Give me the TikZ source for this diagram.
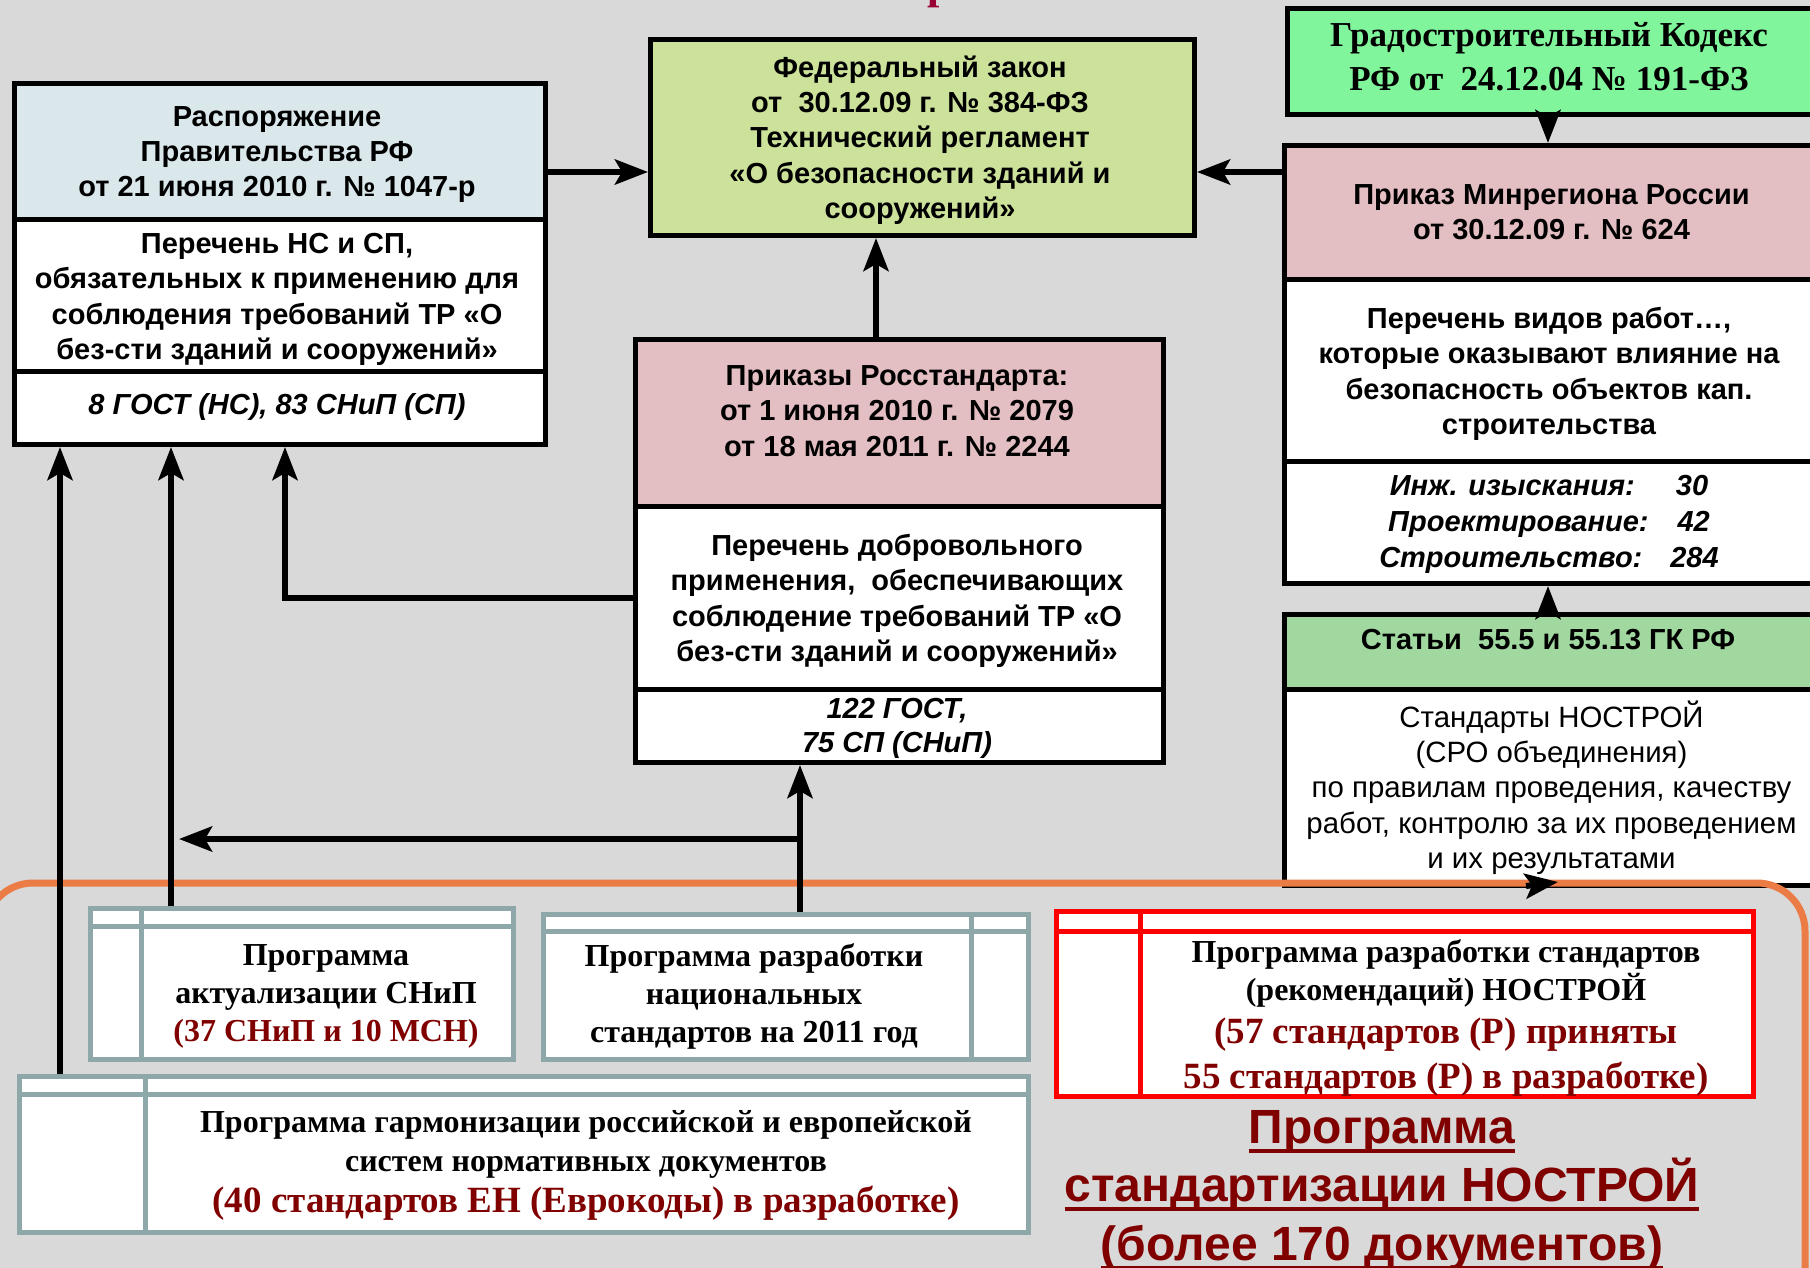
\documentclass[tikz,border=0pt]{standalone}
\usepackage{fontspec}
\setmainfont{Liberation Sans}
\newfontfamily\trm{Liberation Serif}
\usetikzlibrary{arrows.meta,calc}
\definecolor{bgc}{RGB}{217,217,217}
\definecolor{lblue}{RGB}{218,232,236}
\definecolor{fgreen}{RGB}{204,226,154}
\definecolor{ggreen}{RGB}{128,245,155}
\definecolor{pinkc}{RGB}{227,190,194}
\definecolor{sgreen}{RGB}{160,216,160}
\definecolor{tealg}{RGB}{142,168,170}
\definecolor{dred}{RGB}{128,0,0}
\definecolor{orng}{RGB}{236,124,70}
\definecolor{ttlred}{RGB}{153,0,51}
\newcommand{\blk}{\fontsize{32}{38}\selectfont}
\newcommand{\rdl}{\color{dred}\fontsize{37}{38}\selectfont}
\begin{document}
\begin{tikzpicture}[x=1pt,y=-1pt,
  bx/.style={draw=black,line width=5pt,inner sep=0pt,anchor=north west,align=center,
     font=\bfseries\fontsize{29}{35.3}\selectfont},
  txt/.style={inner sep=0pt,align=center,font=\bfseries\fontsize{29}{35.3}\selectfont},
  tbx/.style={draw=tealg,line width=5pt,fill=white,inner sep=0pt,anchor=north west},
  rbx/.style={draw=red,line width=5pt,fill=white,inner sep=0pt,anchor=north west},
  tln/.style={draw=tealg,line width=5pt},
  rln/.style={draw=red,line width=5pt},
  ttx/.style={inner sep=0pt,align=center,font=\trm\bfseries\fontsize{32}{38}\selectfont},
  big/.style={inner sep=0pt,anchor=base,text=dred,font=\bfseries\fontsize{48}{56}\selectfont},
  ulin/.style={draw=dred,line width=3.5pt},
  arr/.style={line width=6pt,-{Stealth[length=33pt,width=25pt,inset=7pt]}},
  orl/.style={draw=orng,line width=7pt,rounded corners=48pt}
]
\useasboundingbox (0,0) rectangle (1810,1268);
\fill[bgc] (0,0) rectangle (1810,1268);

% cut-off title letter
\node[anchor=base west,inner sep=0pt,text=ttlred,font=\trm\bfseries\fontsize{44}{44}\selectfont] (ttl) at (927,-1) {р};

% left box
\node[bx,fill=lblue,minimum width=531pt,minimum height=136pt] (L1) at (12,81) {};
\node[txt] (L1t) at (277,154.5) {Распоряжение\\Правительства РФ\\от 21 июня 2010 г. № 1047-р};
\node[bx,fill=white,minimum width=531pt,minimum height=152pt] (L2) at (12,217) {};
\node[txt] (L2t) at (277,299.5) {Перечень НС и СП,\\обязательных к применению для\\соблюдения требований ТР «О\\без-сти зданий и сооружений»};
\node[bx,fill=white,minimum width=531pt,minimum height=73pt] (L3) at (12,369) {};
\node[txt,font=\bfseries\itshape\fontsize{29}{35}\selectfont] (L3t) at (277,407.5) {8 ГОСТ (НС), 83 СНиП (СП)};

% federal law
\node[bx,fill=fgreen,minimum width=544pt,minimum height=196pt] (F) at (648,37) {};
\node[txt] (Ft) at (920,140) {Федеральный закон\\от~~30.12.09 г. № 384-ФЗ\\Технический регламент\\«О безопасности зданий и\\сооружений»};

% Grad kodeks
\node[bx,fill=ggreen,minimum width=531pt,minimum height=106pt] (G) at (1285,6) {};
\node[txt,font=\trm\bfseries\fontsize{35}{44}\selectfont] (Gt) at (1549,56.5) {Градостроительный Кодекс\\РФ от~~24.12.04 № 191-ФЗ};

% Minregion
\node[bx,fill=pinkc,minimum width=534pt,minimum height=134pt] (M1) at (1282,143)
  {Приказ Минрегиона России\\от 30.12.09 г. № 624};
\node[bx,fill=white,minimum width=534pt,minimum height=182pt] (M2) at (1282,277) {};
\node[txt] (M2t) at (1549,374) {Перечень видов работ…,\\которые оказывают влияние на\\безопасность объектов кап.\\строительства};
\node[bx,fill=white,minimum width=534pt,minimum height=122pt] (M3) at (1282,459) {};
\node[txt,font=\bfseries\itshape\fontsize{29}{36}\selectfont] (M3t) at (1549,524)
  {Инж. изыскания:\hspace{41pt}30\\Проектирование:\hspace{29pt}42\\Строительство:\hspace{28pt}284};

% Statyi
\node[bx,fill=sgreen,minimum width=534pt,minimum height=75pt] (S1) at (1282,612) {};
\node[txt] (S1t) at (1548,640) {Статьи~~55.5 и 55.13 ГК РФ};
\node[bx,fill=white,minimum width=534pt,minimum height=196pt,font=\fontsize{29.4}{35.3}\selectfont] (S2) at (1282,687)
  {Стандарты НОСТРОЙ\\(СРО объединения)\\по правилам проведения, качеству\\работ, контролю за их проведением\\и их результатами};

% Rosstandart
\node[bx,fill=pinkc,minimum width=528pt,minimum height=167pt] (R1) at (633,337) {};
\node[txt] (R1t) at (897,411) {Приказы Росстандарта:\\от 1 июня 2010 г. № 2079\\от 18 мая 2011 г. № 2244};
\node[bx,fill=white,minimum width=528pt,minimum height=183pt] (R2) at (633,504) {};
\node[txt] (R2t) at (897,601) {Перечень добровольного\\применения,~~обеспечивающих\\соблюдение требований ТР «О\\без-сти зданий и сооружений»};
\node[bx,fill=white,minimum width=528pt,minimum height=73pt] (R3) at (633,687) {};
\node[txt,font=\bfseries\itshape\fontsize{29}{34}\selectfont] (R3t) at (897,728) {122 ГОСТ,\\75 СП (СНиП)};

% bottom tables
\node[tbx,minimum width=423pt,minimum height=151pt] (A) at (88,906) {};
\draw[tln] ($(A.north west)+(0,20)$) -- ($(A.north east)+(0,20)$);
\draw[tln] ($(A.north west)+(53,0)$) -- ($(A.south west)+(53,0)$);
\node[ttx] (At) at (326,996) {Программа\\актуализации СНиП\\\color{dred}(37 СНиП и 10 МСН)};

\node[tbx,minimum width=485pt,minimum height=145pt] (B) at (541,912) {};
\draw[tln] ($(B.north west)+(0,19)$) -- ($(B.north east)+(0,19)$);
\draw[tln] ($(B.north east)+(-60,0)$) -- ($(B.south east)+(-60,0)$);
\node[ttx] (Bt) at (754,996) {Программа разработки\\национальных\\стандартов на 2011 год};

\node[tbx,minimum width=1009pt,minimum height=156pt] (C) at (17,1074) {};
\draw[tln] ($(C.north west)+(0,20)$) -- ($(C.north east)+(0,20)$);
\draw[tln] ($(C.north west)+(128,0)$) -- ($(C.south west)+(128,0)$);
\node[ttx] (Ct) at (586,1165) {\blk Программа гармонизации российской и европейской\\[1pt]\blk систем нормативных документов\\[3pt]\rdl (40 стандартов ЕН (Еврокоды) в разработке)};

\node[rbx,minimum width=697pt,minimum height=185pt] (D) at (1054,909) {};
\draw[rln] ($(D.north west)+(0,22)$) -- ($(D.north east)+(0,22)$);
\draw[rln] ($(D.north west)+(86,0)$) -- ($(D.south west)+(86,0)$);
\node[ttx] (Dt) at (1446,1017.5) {\blk Программа разработки стандартов\\\blk (рекомендаций) НОСТРОЙ\\[5pt]\rdl (57 стандартов (Р) приняты\\[7pt]\rdl 55 стандартов (Р) в разработке)};

% big NOSTROY title
\node[big] (N1) at (1382,1143) {Программа};
\node[big] (N2) at (1382,1201) {стандартизации НОСТРОЙ};
\node[big] (N3) at (1382,1260) {(более 170 документов)};
\draw[ulin] ($(N1.base west)+(0,8)$) -- ($(N1.base east)+(0,8)$);
\draw[ulin] ($(N2.base west)+(0,8)$) -- ($(N2.base east)+(0,8)$);
\draw[ulin] ($(N3.base west)+(0,8)$) -- ($(N3.base east)+(0,8)$);

% orange frame
\draw[orl] (-15,1300) -- (-15,883) -- (1805,883) -- (1805,1300);

% connectors
\coordinate (yH) at (0,172);
\coordinate (xRF) at (876,0);
\coordinate (xM) at (1548,0);
\coordinate (xa) at (60,0);
\coordinate (xb) at (171,0);
\coordinate (xc) at (285,0);
\coordinate (xd) at (800,0);
\coordinate (jn) at (800,839);
\coordinate (jt) at (179,839);
\draw[arr] (L1.east |- yH) -- (F.west |- yH);
\draw[arr] (M1.west |- yH) -- (F.east |- yH);
\draw[arr] (R1.north -| xRF) -- (F.south -| xRF);
\draw[arr] (G.south -| xM) -- (M1.north -| xM);
\draw[arr] (S1.north -| xM) -- (M3.south -| xM);
\draw[arr] (R2.west) -| (L3.south -| xc);
\draw[arr] (C.north -| xa) -- (L3.south -| xa);
\draw[arr] (A.north -| xb) -- (L3.south -| xb);
\draw[arr] (B.north -| xd) -- (R3.south -| xd);
\draw[arr] (jn) -- (jt);
\coordinate (sa) at (1526,886);
\coordinate (sb) at (1558,882);
\draw[arr] (sa) -- (sb);
\end{tikzpicture}
\end{document}
